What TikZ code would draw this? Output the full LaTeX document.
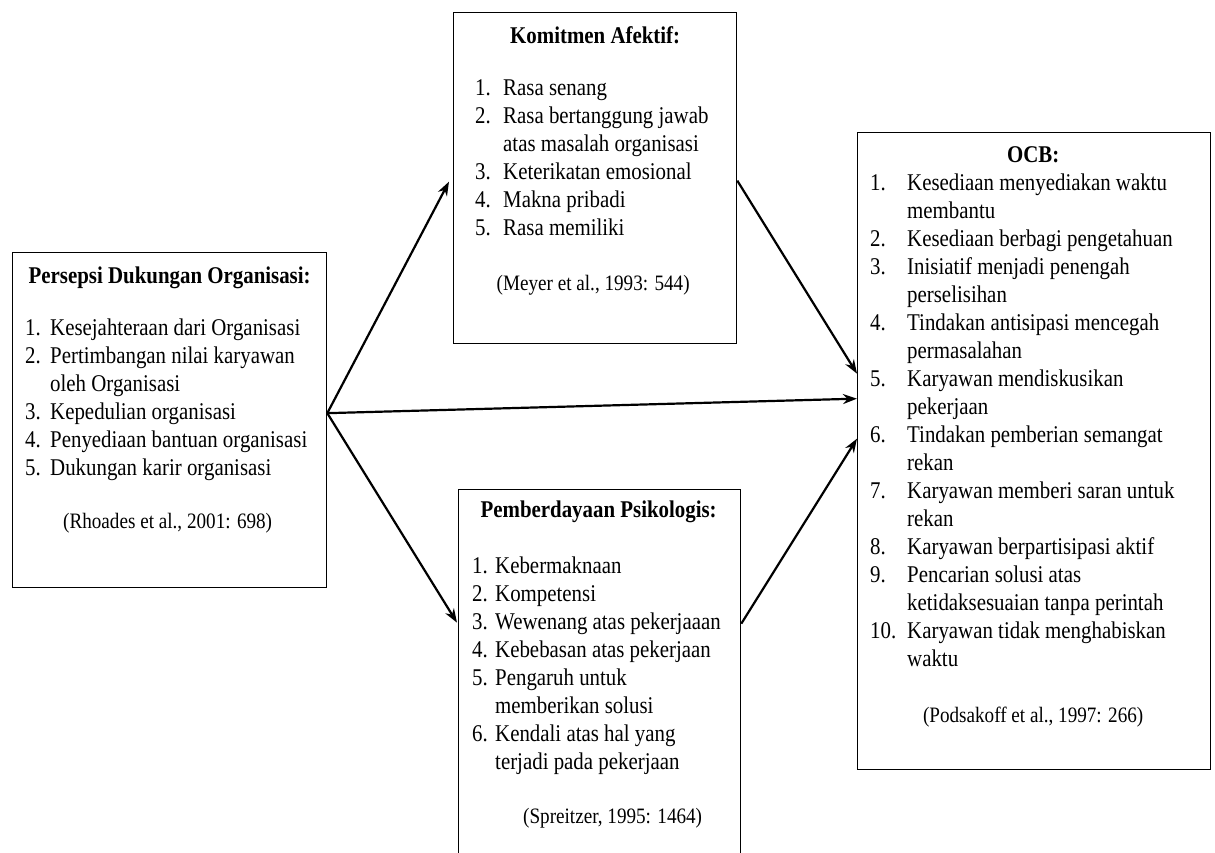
\documentclass[tikz,border=0pt]{standalone}
\usepackage{fontspec}
\setmainfont{Liberation Serif}[FakeStretch=0.87]
\usepackage{tikz}
\usetikzlibrary{arrows.meta, calc}
\tikzset{
    kotak/.style={rectangle, draw=black, line width=1.3pt, fill=white, inner sep=0pt, anchor=north west},
    judul/.style={anchor=base, inner sep=0pt, font=\fontsize{24}{28}\selectfont\bfseries},
    daftar/.style={anchor=base west, inner sep=0pt, font=\fontsize{24}{28}\selectfont},
    sumber/.style={anchor=base, inner sep=0pt, font=\fontsize{22}{26}\selectfont},
    panah/.style={line width=2.2pt, -{Stealth[length=14pt,width=10pt]}}
}

\begin{document}
\begin{tikzpicture}[x=1pt, y=1pt]
    \useasboundingbox (0,0) rectangle (1215,-852);

    % kotak utama
    \node (pdo) [kotak, minimum width=314pt, minimum height=335pt] at (12,-252) {};
    \node (ka) [kotak, minimum width=283pt, minimum height=331pt] at (453,-12) {};
    \node (pp) [kotak, minimum width=282pt, minimum height=400pt] at (458,-489) {};
    \node (ocb) [kotak, minimum width=353pt, minimum height=637pt] at (857,-132) {};

    % Persepsi Dukungan Organisasi
    \node (pdoJudul) [judul] at ($(pdo.north)+(0,-31)$) {Persepsi Dukungan Organisasi:};
    \node (pdoIsi) [daftar] at ($(pdo.north west)+(13,-83)$) {%
        \begin{tabular}[t]{@{}p{25pt}@{}l@{}}
        1. & Kesejahteraan dari Organisasi\\
        2. & Pertimbangan nilai karyawan\\
           & oleh Organisasi\\
        3. & Kepedulian organisasi\\
        4. & Penyediaan bantuan organisasi\\
        5. & Dukungan karir organisasi
        \end{tabular}};
    \node (pdoSumber) [sumber] at ($(pdo.north)+(-2,-276)$) {(Rhoades et al., 2001: 698)};

    % Komitmen Afektif
    \node (kaJudul) [judul] at ($(ka.north)+(0,-31)$) {Komitmen Afektif:};
    \node (kaIsi) [daftar] at ($(ka.north west)+(22,-83)$) {%
        \begin{tabular}[t]{@{}p{28pt}@{}l@{}}
        1. & Rasa senang\\
        2. & Rasa bertanggung jawab\\
           & atas masalah organisasi\\
        3. & Keterikatan emosional\\
        4. & Makna pribadi\\
        5. & Rasa memiliki
        \end{tabular}};
    \node (kaSumber) [sumber] at ($(ka.north)+(-2,-278)$) {(Meyer et al., 1993: 544)};

    % Pemberdayaan Psikologis
    \node (ppJudul) [judul] at ($(pp.north)+(-1,-28)$) {Pemberdayaan Psikologis:};
    \node (ppIsi) [daftar] at ($(pp.north west)+(14,-84)$) {%
        \begin{tabular}[t]{@{}p{23pt}@{}l@{}}
        1. & Kebermaknaan\\
        2. & Kompetensi\\
        3. & Wewenang atas pekerjaaan\\
        4. & Kebebasan atas pekerjaan\\
        5. & Pengaruh untuk\\
           & memberikan solusi\\
        6. & Kendali atas hal yang\\
           & terjadi pada pekerjaan
        \end{tabular}};
    \node (ppSumber) [sumber] at ($(pp.north)+(13,-334)$) {(Spreitzer, 1995: 1464)};

    % OCB
    \node (ocbJudul) [judul] at ($(ocb.north)+(-1,-30)$) {OCB:};
    \node (ocbIsi) [daftar] at ($(ocb.north west)+(13,-58)$) {%
        \begin{tabular}[t]{@{}p{37pt}@{}l@{}}
        1.  & Kesediaan menyediakan waktu\\
            & membantu\\
        2.  & Kesediaan berbagi pengetahuan\\
        3.  & Inisiatif menjadi penengah\\
            & perselisihan\\
        4.  & Tindakan antisipasi mencegah\\
            & permasalahan\\
        5.  & Karyawan mendiskusikan\\
            & pekerjaan\\
        6.  & Tindakan pemberian semangat\\
            & rekan\\
        7.  & Karyawan memberi saran untuk\\
            & rekan\\
        8.  & Karyawan berpartisipasi aktif\\
        9.  & Pencarian solusi atas\\
            & ketidaksesuaian tanpa perintah\\
        10. & Karyawan tidak menghabiskan\\
            & waktu
        \end{tabular}};
    \node (ocbSumber) [sumber] at ($(ocb.north)+(-1,-590)$) {(Podsakoff et al., 1997: 266)};

    % panah
    \draw [panah] ([yshift=7pt]pdo.east) -- ([xshift=-4pt,yshift=-3.5pt]ka.west);
    \draw [panah] ([yshift=7pt]pdo.east) -- ([xshift=-1pt,yshift=67pt]pp.west);
    \draw [panah] ([yshift=7pt]pdo.east) -- ([yshift=52.5pt]ocb.west);
    \draw [panah] ([yshift=-2.5pt]ka.east) -- ([yshift=77.5pt]ocb.west);
    \draw [panah] ([yshift=66pt]pp.east) -- ([yshift=12.5pt]ocb.west);
\end{tikzpicture}
\end{document}
